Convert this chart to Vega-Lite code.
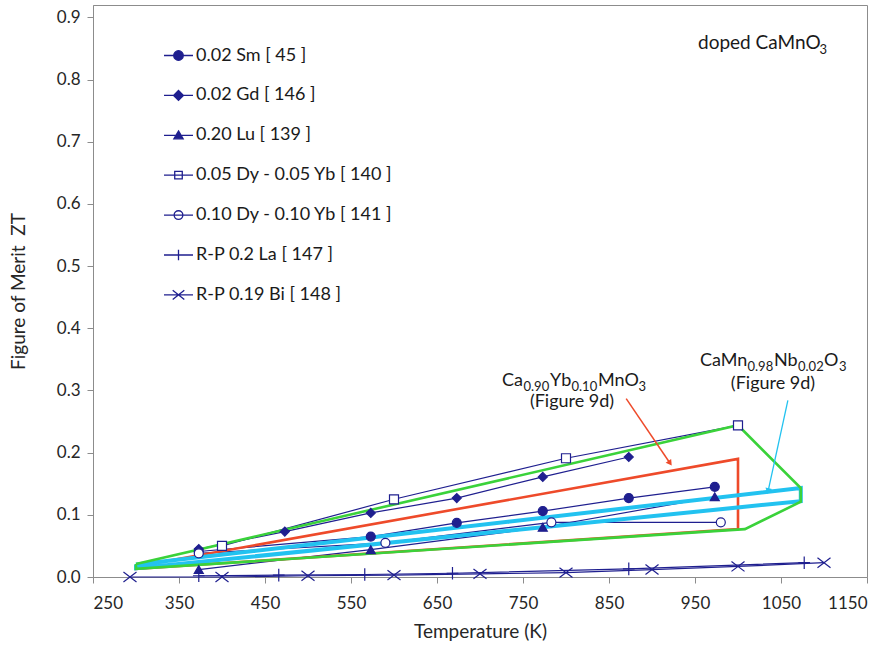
{
  "$schema": "https://vega.github.io/schema/vega-lite/v6.json",
  "width": 774,
  "height": 572,
  "autosize": {"type": "none"},
  "padding": {"left": 93, "top": 5, "right": 24, "bottom": 68},
  "background": "white",
  "config": {
    "font": "Lato",
    "view": {"stroke": "#8c8c8c", "strokeWidth": 1},
    "axis": {
      "grid": false,
      "domainColor": "#8c8c8c",
      "tickColor": "#8c8c8c",
      "labelColor": "#262626",
      "titleColor": "#262626",
      "labelFont": "Lato",
      "titleFont": "Lato",
      "labelFontSize": 17,
      "titleFontSize": 19,
      "titleFontWeight": "normal",
      "tickSize": 6
    },
    "legend": {
      "orient": "none",
      "legendX": 70,
      "legendY": 35,
      "padding": 0,
      "symbolSize": 841,
      "rowPadding": 14.9,
      "labelFont": "Lato",
      "labelFontSize": 18,
      "labelColor": "#1a1a1a",
      "labelOffset": 2,
      "labelLimit": 400,
      "symbolStrokeColor": "#1f1f8f",
      "symbolStrokeWidth": 1.3
    }
  },
  "datasets": {
    "series": [
      {"series": "0.02 Sm [ 45 ]", "T": 373, "ZT": 0.041},
      {"series": "0.02 Sm [ 45 ]", "T": 573, "ZT": 0.065},
      {"series": "0.02 Sm [ 45 ]", "T": 673, "ZT": 0.087},
      {"series": "0.02 Sm [ 45 ]", "T": 773, "ZT": 0.106},
      {"series": "0.02 Sm [ 45 ]", "T": 873, "ZT": 0.127},
      {"series": "0.02 Sm [ 45 ]", "T": 973, "ZT": 0.145},
      {"series": "0.02 Gd [ 146 ]", "T": 373, "ZT": 0.045},
      {"series": "0.02 Gd [ 146 ]", "T": 473, "ZT": 0.073},
      {"series": "0.02 Gd [ 146 ]", "T": 573, "ZT": 0.103},
      {"series": "0.02 Gd [ 146 ]", "T": 673, "ZT": 0.127},
      {"series": "0.02 Gd [ 146 ]", "T": 773, "ZT": 0.161},
      {"series": "0.02 Gd [ 146 ]", "T": 873, "ZT": 0.193},
      {"series": "0.20 Lu [ 139 ]", "T": 373, "ZT": 0.012},
      {"series": "0.20 Lu [ 139 ]", "T": 573, "ZT": 0.044},
      {"series": "0.20 Lu [ 139 ]", "T": 773, "ZT": 0.080},
      {"series": "0.20 Lu [ 139 ]", "T": 973, "ZT": 0.129},
      {"series": "0.05 Dy - 0.05 Yb [ 140 ]", "T": 400, "ZT": 0.050},
      {"series": "0.05 Dy - 0.05 Yb [ 140 ]", "T": 600, "ZT": 0.125},
      {"series": "0.05 Dy - 0.05 Yb [ 140 ]", "T": 800, "ZT": 0.191},
      {"series": "0.05 Dy - 0.05 Yb [ 140 ]", "T": 1000, "ZT": 0.244},
      {"series": "0.10 Dy - 0.10 Yb [ 141 ]", "T": 373, "ZT": 0.038},
      {"series": "0.10 Dy - 0.10 Yb [ 141 ]", "T": 590, "ZT": 0.055},
      {"series": "0.10 Dy - 0.10 Yb [ 141 ]", "T": 783, "ZT": 0.088},
      {"series": "0.10 Dy - 0.10 Yb [ 141 ]", "T": 980, "ZT": 0.088},
      {"series": "R-P 0.2 La [ 147 ]", "T": 373, "ZT": 0.002},
      {"series": "R-P 0.2 La [ 147 ]", "T": 466, "ZT": 0.003},
      {"series": "R-P 0.2 La [ 147 ]", "T": 566, "ZT": 0.004},
      {"series": "R-P 0.2 La [ 147 ]", "T": 668, "ZT": 0.006},
      {"series": "R-P 0.2 La [ 147 ]", "T": 873, "ZT": 0.013},
      {"series": "R-P 0.2 La [ 147 ]", "T": 1077, "ZT": 0.023},
      {"series": "R-P 0.19 Bi [ 148 ]", "T": 293, "ZT": 0.0},
      {"series": "R-P 0.19 Bi [ 148 ]", "T": 400, "ZT": 0.0},
      {"series": "R-P 0.19 Bi [ 148 ]", "T": 500, "ZT": 0.002},
      {"series": "R-P 0.19 Bi [ 148 ]", "T": 600, "ZT": 0.003},
      {"series": "R-P 0.19 Bi [ 148 ]", "T": 700, "ZT": 0.005},
      {"series": "R-P 0.19 Bi [ 148 ]", "T": 800, "ZT": 0.007},
      {"series": "R-P 0.19 Bi [ 148 ]", "T": 900, "ZT": 0.012},
      {"series": "R-P 0.19 Bi [ 148 ]", "T": 1000, "ZT": 0.017},
      {"series": "R-P 0.19 Bi [ 148 ]", "T": 1100, "ZT": 0.023}
    ],
    "outlines": [
      {"outline": "red", "seq": 1, "T": 300, "ZT": 0.017},
      {"outline": "red", "seq": 2, "T": 1000, "ZT": 0.190},
      {"outline": "red", "seq": 3, "T": 1000, "ZT": 0.077},
      {"outline": "red", "seq": 4, "T": 300, "ZT": 0.013},
      {"outline": "red", "seq": 5, "T": 300, "ZT": 0.017},
      {"outline": "cyan", "seq": 1, "T": 300, "ZT": 0.020},
      {"outline": "cyan", "seq": 2, "T": 1073, "ZT": 0.143},
      {"outline": "cyan", "seq": 3, "T": 1073, "ZT": 0.122},
      {"outline": "cyan", "seq": 4, "T": 300, "ZT": 0.014},
      {"outline": "cyan", "seq": 5, "T": 300, "ZT": 0.020},
      {"outline": "green", "seq": 1, "T": 300, "ZT": 0.021},
      {"outline": "green", "seq": 2, "T": 1000, "ZT": 0.244},
      {"outline": "green", "seq": 3, "T": 1073, "ZT": 0.143},
      {"outline": "green", "seq": 4, "T": 1073, "ZT": 0.121},
      {"outline": "green", "seq": 5, "T": 1008, "ZT": 0.077},
      {"outline": "green", "seq": 6, "T": 300, "ZT": 0.013},
      {"outline": "green", "seq": 7, "T": 300, "ZT": 0.021}
    ],
    "arrows": [
      {"arrow": "yb", "seq": 1, "T": 870, "ZT": 0.287},
      {"arrow": "yb", "seq": 2, "T": 921, "ZT": 0.183},
      {"arrow": "nb", "seq": 1, "T": 1058, "ZT": 0.284},
      {"arrow": "nb", "seq": 2, "T": 1035, "ZT": 0.138}
    ],
    "notes": [
      {"note": "doped", "T": 953.5, "ZT": 0.850},
      {"note": "yb", "T": 725.6, "ZT": 0.308},
      {"note": "yb-ref", "T": 807, "ZT": 0.273},
      {"note": "nb", "T": 955.8, "ZT": 0.340},
      {"note": "nb-ref", "T": 1040.7, "ZT": 0.302}
    ]
  },
  "encoding": {
    "x": {
      "field": "T", "type": "quantitative",
      "scale": {"domain": [250, 1150], "nice": false, "zero": false},
      "axis": {
        "title": "Temperature (K)",
        "values": [250, 350, 450, 550, 650, 750, 850, 950, 1050, 1150],
        "format": "d",
        "labelPadding": 12,
        "titlePadding": 11
      }
    },
    "y": {
      "field": "ZT", "type": "quantitative",
      "scale": {"domain": [0, 0.92], "nice": false},
      "axis": {
        "title": "Figure of Merit\u00a0 ZT",
        "values": [0, 0.1, 0.2, 0.3, 0.4, 0.5, 0.6, 0.7, 0.8, 0.9],
        "format": ".1f",
        "labelPadding": 7,
        "titlePadding": 28
      }
    }
  },
  "layer": [
    {
      "data": {"name": "series"},
      "mark": {"type": "line", "stroke": "#1f1f8f", "strokeWidth": 1.2},
      "encoding": {"detail": {"field": "series"}}
    },
    {
      "data": {"name": "outlines"},
      "transform": [{"filter": "datum.outline === 'red'"}],
      "mark": {"type": "line", "stroke": "#ee4a2a", "strokeWidth": 2.6},
      "encoding": {"order": {"field": "seq", "type": "quantitative"}}
    },
    {
      "data": {"name": "outlines"},
      "transform": [{"filter": "datum.outline === 'cyan'"}],
      "mark": {"type": "line", "stroke": "#22c2f0", "strokeWidth": 4},
      "encoding": {"order": {"field": "seq", "type": "quantitative"}}
    },
    {
      "data": {"name": "outlines"},
      "transform": [{"filter": "datum.outline === 'green'"}],
      "mark": {"type": "line", "stroke": "#3ad23a", "strokeWidth": 2.6},
      "encoding": {"order": {"field": "seq", "type": "quantitative"}}
    },
    {
      "data": {"name": "series"},
      "transform": [{"filter": "datum.series === '0.02 Sm [ 45 ]'"}],
      "mark": {"type": "point", "shape": "circle", "size": 81, "filled": true, "fill": "#1f1f8f", "stroke": "#1f1f8f", "strokeWidth": 1.2, "opacity": 1}
    },
    {
      "data": {"name": "series"},
      "transform": [{"filter": "datum.series === '0.02 Gd [ 146 ]'"}],
      "mark": {"type": "point", "shape": "diamond", "size": 81, "filled": true, "fill": "#1f1f8f", "stroke": "#1f1f8f", "strokeWidth": 1.2, "opacity": 1}
    },
    {
      "data": {"name": "series"},
      "transform": [{"filter": "datum.series === '0.20 Lu [ 139 ]'"}],
      "mark": {"type": "point", "shape": "triangle-up", "size": 81, "filled": true, "fill": "#1f1f8f", "stroke": "#1f1f8f", "strokeWidth": 1.2, "opacity": 1}
    },
    {
      "data": {"name": "series"},
      "transform": [{"filter": "datum.series === '0.05 Dy - 0.05 Yb [ 140 ]'"}],
      "mark": {"type": "point", "shape": "square", "size": 81, "filled": true, "fill": "white", "stroke": "#1f1f8f", "strokeWidth": 1.2, "opacity": 1}
    },
    {
      "data": {"name": "series"},
      "transform": [{"filter": "datum.series === '0.10 Dy - 0.10 Yb [ 141 ]'"}],
      "mark": {"type": "point", "shape": "circle", "size": 81, "filled": true, "fill": "white", "stroke": "#1f1f8f", "strokeWidth": 1.2, "opacity": 1}
    },
    {
      "data": {"name": "series"},
      "transform": [{"filter": "datum.series === 'R-P 0.2 La [ 147 ]'"}],
      "mark": {"type": "point", "shape": "M-1.3,0H1.3M0,-1.4V1.4", "size": 81, "filled": false, "stroke": "#1f1f8f", "strokeWidth": 1.2, "opacity": 1}
    },
    {
      "data": {"name": "series"},
      "transform": [{"filter": "datum.series === 'R-P 0.19 Bi [ 148 ]'"}],
      "mark": {"type": "point", "shape": "M-1.45,-1.1L1.45,1.1M-1.45,1.1L1.45,-1.1", "size": 81, "filled": false, "stroke": "#1f1f8f", "strokeWidth": 1.2, "opacity": 1}
    },
    {
      "data": {"name": "series"},
      "mark": {"type": "point", "size": 0, "opacity": 1, "stroke": "#1f1f8f", "strokeWidth": 1.3},
      "encoding": {
        "shape": {
          "field": "series", "type": "nominal",
          "scale": {
            "domain": ["0.02 Sm [ 45 ]", "0.02 Gd [ 146 ]", "0.20 Lu [ 139 ]", "0.05 Dy - 0.05 Yb [ 140 ]", "0.10 Dy - 0.10 Yb [ 141 ]", "R-P 0.2 La [ 147 ]", "R-P 0.19 Bi [ 148 ]"],
            "range": [
              "M-1,0H1M-0.33,0A0.33,0.33 0 1,0 0.33,0A0.33,0.33 0 1,0 -0.33,0Z",
              "M-1,0H1M0,-0.34L0.34,0L0,0.34L-0.34,0Z",
              "M-1,0H1M0,-0.3L0.32,0.24L-0.32,0.24Z",
              "M-1,0H1M-0.26,-0.26H0.26V0.26H-0.26Z",
              "M-1,0H1M-0.3,0A0.3,0.3 0 1,0 0.3,0A0.3,0.3 0 1,0 -0.3,0Z",
              "M-1,0H1M0,-0.36V0.36",
              "M-1,0H1M-0.4,-0.32L0.4,0.32M-0.4,0.32L0.4,-0.32"
            ]
          },
          "legend": {
            "title": null,
            "encoding": {
              "symbols": {
                "fill": {"value": {"expr": "['#1f1f8f', '#1f1f8f', '#1f1f8f', 'white', 'white', 'transparent', 'transparent'][datum.index]"}},
                "stroke": {"value": "#1f1f8f"},
                "strokeWidth": {"value": 1.3},
                "size": {"value": 841},
                "opacity": {"value": 1}
              }
            }
          }
        }
      }
    },
    {
      "data": {"name": "arrows"},
      "transform": [{"filter": "datum.arrow === 'yb'"}],
      "mark": {"type": "line", "stroke": "#ee4a2a", "strokeWidth": 1.5},
      "encoding": {"order": {"field": "seq", "type": "quantitative"}}
    },
    {
      "data": {"name": "arrows"},
      "transform": [{"filter": "datum.arrow === 'yb' && datum.seq === 2"}],
      "mark": {"type": "point", "shape": "triangle-up", "size": 45, "angle": 145, "filled": true, "fill": "#ee4a2a", "opacity": 1}
    },
    {
      "data": {"name": "arrows"},
      "transform": [{"filter": "datum.arrow === 'nb'"}],
      "mark": {"type": "line", "stroke": "#22c2f0", "strokeWidth": 1.3},
      "encoding": {"order": {"field": "seq", "type": "quantitative"}}
    },
    {
      "data": {"name": "arrows"},
      "transform": [{"filter": "datum.arrow === 'nb' && datum.seq === 2"}],
      "mark": {"type": "point", "shape": "triangle-up", "size": 45, "angle": 193, "filled": true, "fill": "#22c2f0", "opacity": 1}
    },
    {
      "data": {"name": "notes"},
      "transform": [{"filter": "datum.note === 'doped'"}],
      "layer": [
        {"mark": {"type": "text", "text": "doped CaMnO", "align": "left", "baseline": "alphabetic", "fontSize": 19, "fill": "#1a1a1a"}},
        {"mark": {"type": "text", "text": "3", "align": "left", "baseline": "alphabetic", "fontSize": 13, "dx": 121.5, "dy": 5, "fill": "#1a1a1a"}}
      ]
    },
    {
      "data": {"name": "notes"},
      "transform": [{"filter": "datum.note === 'yb'"}],
      "layer": [
        {"mark": {"type": "text", "text": "Ca", "align": "left", "baseline": "alphabetic", "fontSize": 18, "fill": "#1a1a1a"}},
        {"mark": {"type": "text", "text": "0.90", "align": "left", "baseline": "alphabetic", "fontSize": 13, "dx": 21.5, "dy": 5, "fill": "#1a1a1a"}},
        {"mark": {"type": "text", "text": "Yb", "align": "left", "baseline": "alphabetic", "fontSize": 18, "dx": 48, "fill": "#1a1a1a"}},
        {"mark": {"type": "text", "text": "0.10", "align": "left", "baseline": "alphabetic", "fontSize": 13, "dx": 69.5, "dy": 5, "fill": "#1a1a1a"}},
        {"mark": {"type": "text", "text": "MnO", "align": "left", "baseline": "alphabetic", "fontSize": 18, "dx": 96, "fill": "#1a1a1a"}},
        {"mark": {"type": "text", "text": "3", "align": "left", "baseline": "alphabetic", "fontSize": 13, "dx": 136.5, "dy": 5, "fill": "#1a1a1a"}}
      ]
    },
    {
      "data": {"name": "notes"},
      "transform": [{"filter": "datum.note === 'nb'"}],
      "layer": [
        {"mark": {"type": "text", "text": "CaMn", "align": "left", "baseline": "alphabetic", "fontSize": 18, "fill": "#1a1a1a"}},
        {"mark": {"type": "text", "text": "0.98", "align": "left", "baseline": "alphabetic", "fontSize": 13, "dx": 47.5, "dy": 5, "fill": "#1a1a1a"}},
        {"mark": {"type": "text", "text": "Nb", "align": "left", "baseline": "alphabetic", "fontSize": 18, "dx": 74, "fill": "#1a1a1a"}},
        {"mark": {"type": "text", "text": "0.02", "align": "left", "baseline": "alphabetic", "fontSize": 13, "dx": 98, "dy": 5, "fill": "#1a1a1a"}},
        {"mark": {"type": "text", "text": "O", "align": "left", "baseline": "alphabetic", "fontSize": 18, "dx": 124, "fill": "#1a1a1a"}},
        {"mark": {"type": "text", "text": "3", "align": "left", "baseline": "alphabetic", "fontSize": 13, "dx": 139, "dy": 5, "fill": "#1a1a1a"}}
      ]
    },
    {
      "data": {"name": "notes"},
      "transform": [{"filter": "datum.note === 'yb-ref' || datum.note === 'nb-ref'"}],
      "mark": {"type": "text", "text": "(Figure 9d)", "align": "center", "baseline": "alphabetic", "fontSize": 18, "fill": "#1a1a1a"}
    }
  ]
}
